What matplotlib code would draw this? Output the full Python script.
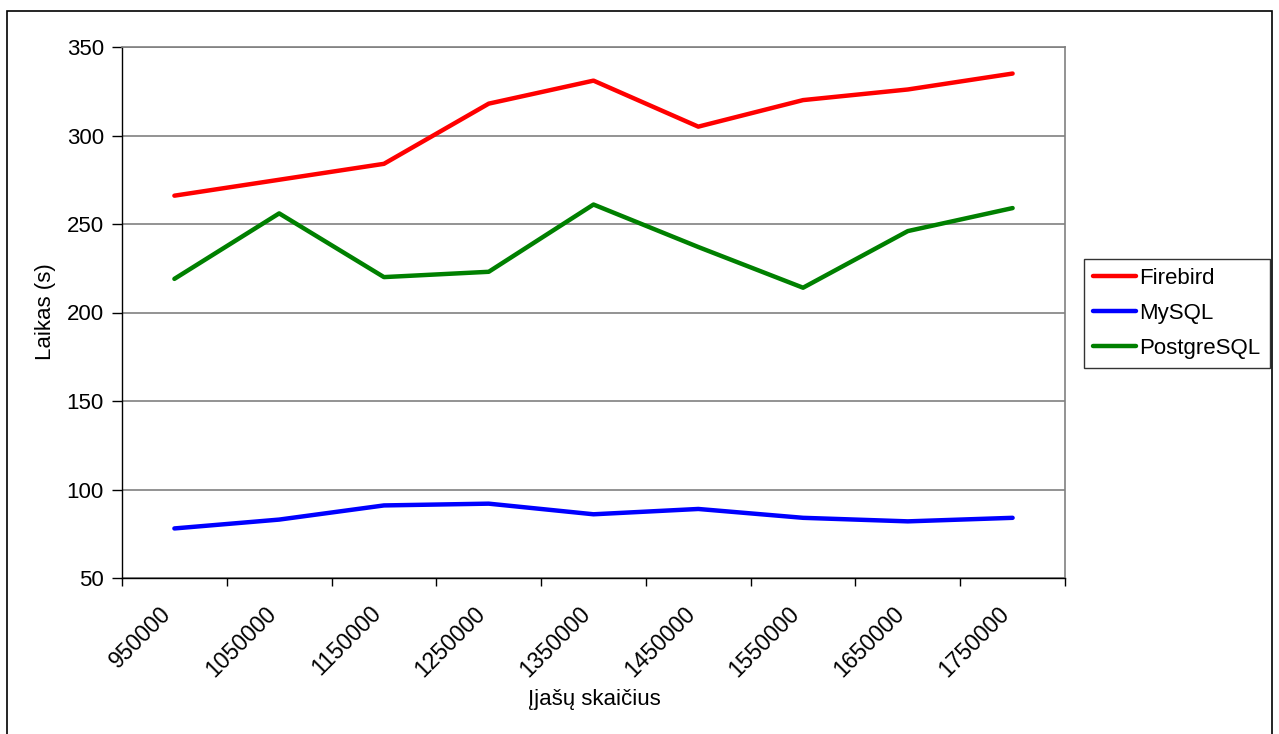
import matplotlib
matplotlib.use("Agg")
import matplotlib.pyplot as plt
from matplotlib.patches import Rectangle

plt.rcParams['font.family'] = ['Liberation Sans', 'DejaVu Sans']

categories = ["950000", "1050000", "1150000", "1250000", "1350000",
              "1450000", "1550000", "1650000", "1750000"]
firebird = [266, 275, 284, 318, 331, 305, 320, 326, 335]
mysql = [78, 83, 91, 92, 86, 89, 84, 82, 84]
postgresql = [219, 256, 220, 223, 261, 237, 214, 246, 259]
series = [("Firebird", firebird, "#FF0000"),
          ("MySQL", mysql, "#0000FF"),
          ("PostgreSQL", postgresql, "#008000")]
yticks = [50, 100, 150, 200, 250, 300, 350]

W, H = 1279, 734
fig = plt.figure(figsize=(W/100, H/100), dpi=100)
fig.patches.append(Rectangle((7/W, -0.05), (1272-7)/W, 1.05 - 11/H,
                             transform=fig.transFigure, fill=False,
                             edgecolor='black', linewidth=1.2))

ax = fig.add_axes([122/W, 1-578/H, (1065-122)/W, (578-47)/H])
fs = 16
xs = [i + 0.5 for i in range(len(categories))]
for name, vals, col in series:
    ax.plot(xs, vals, color=col, linewidth=3.2, label=name, solid_capstyle='round')

ax.set_xlim(0, len(categories))
ax.set_ylim(50, 350)
ax.set_yticks(yticks)
ax.set_yticklabels([str(v) for v in yticks], fontsize=fs)
ax.yaxis.grid(True, color='#808080', linewidth=1.2)
ax.set_axisbelow(True)

ax.set_xticks(range(len(categories) + 1))
ax.set_xticklabels([])
# label anchors sit slightly left of the category centre (Excel style)
label_pos = [x - 0.065 for x in xs]
ax.set_xticks(label_pos, minor=True)
ax.set_xticklabels(categories, minor=True, rotation=45, ha='right',
                   va='center', rotation_mode='anchor', fontsize=16.5)
ax.tick_params(axis='x', which='minor', length=0, pad=23)
ax.tick_params(axis='x', which='major', length=6, direction='out', width=1)
ax.tick_params(axis='y', length=7, direction='out', width=1, pad=6)

for s in ['top', 'right']:
    ax.spines[s].set_color('#808080')
    ax.spines[s].set_linewidth(1.2)
for s in ['left', 'bottom']:
    ax.spines[s].set_color('black')
    ax.spines[s].set_linewidth(1)

fig.text(46/W, 1-312/H, "Laikas (s)", rotation=90, ha='center', va='center', fontsize=fs)
fig.text(594/W, 1-700/H, "Įjašų skaičius", ha='center', va='center', fontsize=fs)

leg = fig.legend(loc='upper left', bbox_to_anchor=(1084/W, 1-259/H),
                 borderaxespad=0, fontsize=fs, frameon=True, fancybox=False,
                 edgecolor='black', handlelength=1.95, handletextpad=0.15,
                 labelspacing=0.63, borderpad=0.4)
leg.get_frame().set_linewidth(1)

fig.savefig("out.png", dpi=100)
